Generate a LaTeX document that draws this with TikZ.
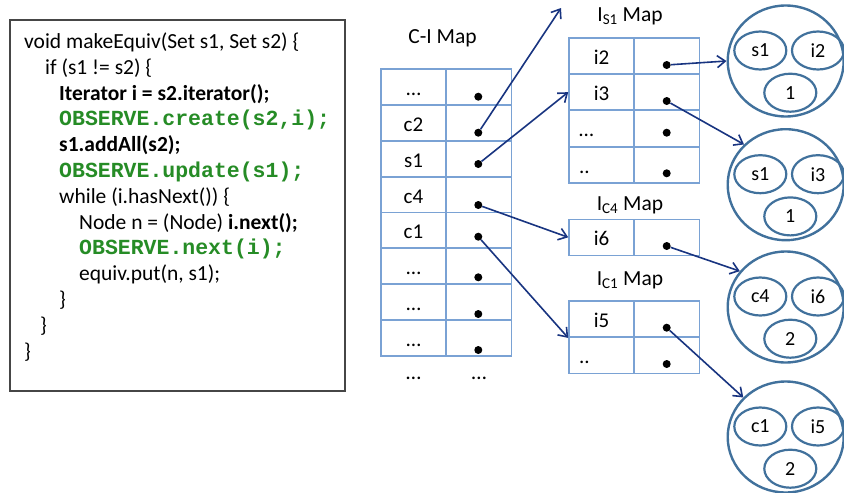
\documentclass[tikz,border=0pt]{standalone}
\usepackage{fontspec}
\setmainfont{Carlito}
\newfontfamily\codemono{Liberation Mono}
\usetikzlibrary{arrows.meta,shapes.geometric}
\definecolor{gridblue}{RGB}{122,162,212}
\definecolor{ringblue}{RGB}{65,113,156}
\definecolor{arrownavy}{RGB}{24,52,128}
\definecolor{codegreen}{RGB}{38,140,38}
\definecolor{boxgray}{RGB}{70,70,70}

\begin{document}
\begin{tikzpicture}[x=1pt,y=-1pt,
  codeline/.style={anchor=base west, inner sep=0pt, font=\fontsize{21.5}{26}\selectfont},
  obs/.style={anchor=base west, inner sep=0pt, text=codegreen, font=\fontsize{21.5}{26}\selectfont\codemono\bfseries},
  cell/.style={draw=gridblue, line width=1.5pt, minimum width=65.4pt, minimum height=36pt,
    inner sep=0pt, text height=19pt, text depth=2pt, font=\fontsize{21}{24}\selectfont},
  lefttext/.style={text width=45pt, align=left},
  dot/.style={circle, fill=black, inner sep=0pt, minimum size=8pt},
  maptitle/.style={anchor=base, inner sep=0pt, font=\fontsize{21.5}{26}\selectfont},
  ring/.style={ellipse, draw=ringblue, line width=2.4pt, minimum width=116pt, minimum height=111pt, inner sep=0pt},
  blob/.style={ellipse, draw=ringblue, line width=2.2pt, minimum width=52pt, minimum height=38pt,
    inner sep=0pt, font=\fontsize{20}{22}\selectfont},
  link/.style={draw=arrownavy, line width=1.6pt, -{Straight Barb[length=8pt,width=12pt,line width=1.6pt]}}
]
\path[use as bounding box] (0,0) rectangle (844,493);

% ---- source code box ----
\draw[boxgray, line width=1.4pt] (10,20) rectangle (345,391);
\node[codeline] (l1)  at (24,48.5)  {void makeEquiv(Set s1, Set s2) \{};
\node[codeline] (l2)  at (45,74.3)  {if (s1 != s2) \{};
\node[codeline] (l3)  at (59,100.1) {\textbf{Iterator i = s2.iterator();}};
\node[obs]      (l4)  at (59,125.9) {OBSERVE.create(s2,i);};
\node[codeline] (l5)  at (59,151.7) {\textbf{s1.addAll(s2);}};
\node[obs]      (l6)  at (59,177.5) {OBSERVE.update(s1);};
\node[codeline] (l7)  at (59,203.3) {while (i.hasNext()) \{};
\node[codeline] (l8)  at (79,229.1) {Node n = (Node) \textbf{i.next();}};
\node[obs]      (l9)  at (79,254.9) {OBSERVE.next(i);};
\node[codeline] (l10) at (79,280.7) {equiv.put(n, s1);};
\node[codeline] (l11) at (59,306.5) {\}};
\node[codeline] (l12) at (40,332.3) {\}};
\node[codeline] (l13) at (24,358.1) {\}};

% ---- C-I map ----
\node[maptitle] (citl) at (442.5,43.5) {C-I Map};
\node[cell] (cik1) at (413.5,87.2)  {…};
\node[cell] (civ1) at (479,87.2)    {};
\node[cell] (cik2) at (413.5,123.0) {c2};
\node[cell] (civ2) at (479,123.0)   {};
\node[cell] (cik3) at (413.5,158.8) {s1};
\node[cell] (civ3) at (479,158.8)   {};
\node[cell] (cik4) at (413.5,194.6) {c4};
\node[cell] (civ4) at (479,194.6)   {};
\node[cell] (cik5) at (413.5,230.4) {c1};
\node[cell] (civ5) at (479,230.4)   {};
\node[cell] (cik6) at (413.5,266.2) {…};
\node[cell] (civ6) at (479,266.2)   {};
\node[cell] (cik7) at (413.5,302.0) {…};
\node[cell] (civ7) at (479,302.0)   {};
\node[cell] (cik8) at (413.5,337.8) {…};
\node[cell] (civ8) at (479,337.8)   {};
\node[maptitle] (cimore1) at (413.5,379) {…};
\node[maptitle] (cimore2) at (479,379)   {…};
\node[dot] (cid1) at (478.3,96.7)  {};
\node[dot] (cid2) at (478.3,132.7) {};
\node[dot] (cid3) at (478.3,164)   {};
\node[dot] (cid4) at (478.3,205)   {};
\node[dot] (cid5) at (478.3,236.7) {};
\node[dot] (cid6) at (478.3,277.3) {};
\node[dot] (cid7) at (478.3,314)   {};
\node[dot] (cid8) at (478.3,350)   {};

% ---- I_S1 map ----
\node[maptitle] (is1tl) at (630,21.7) {I\textsubscript{S1} Map};
\node[cell] (is1k1) at (601.65,55.85)  {i2};
\node[cell] (is1v1) at (666.8,55.85)   {};
\node[cell] (is1k2) at (601.65,92.15)  {i3};
\node[cell] (is1v2) at (666.8,92.15)   {};
\node[cell,lefttext] (is1k3) at (601.65,128.45) {…};
\node[cell] (is1v3) at (666.8,128.45)  {};
\node[cell,lefttext] (is1k4) at (601.65,164.75) {..};
\node[cell] (is1v4) at (666.8,164.75)  {};
\node[dot] (is1d1) at (666.7,65)    {};
\node[dot] (is1d2) at (666.7,101)   {};
\node[dot] (is1d3) at (666.7,132.7) {};
\node[dot] (is1d4) at (666.7,173.3) {};

% ---- I_C4 map ----
\node[maptitle] (ic4tl) at (630,210) {I\textsubscript{C4} Map};
\node[cell] (ic4k1) at (601.65,237.3) {i6};
\node[cell] (ic4v1) at (666.8,237.3)  {};
\node[dot] (ic4d1) at (666.7,246) {};

% ---- I_C1 map ----
\node[maptitle] (ic1tl) at (630,285) {I\textsubscript{C1} Map};
\node[cell] (ic1k1) at (601.65,319.15) {i5};
\node[cell] (ic1v1) at (666.8,319.15)  {};
\node[cell,lefttext] (ic1k2) at (601.65,355.3) {..};
\node[cell] (ic1v2) at (666.8,355.3)   {};
\node[dot] (ic1d1) at (666.7,327.7) {};
\node[dot] (ic1d2) at (666.7,364)   {};

% ---- equivalence records ----
\node[ring] (r1) at (785.7,61)    {};
\node[blob] (r1a) at (760.3,50.5) {s1};
\node[blob] (r1b) at (818,50.5)   {i2};
\node[blob] (r1c) at (790.3,92.7) {1};

\node[ring] (r2) at (785.7,184.7)   {};
\node[blob] (r2a) at (760.3,174.2)  {s1};
\node[blob] (r2b) at (818,174.2)    {i3};
\node[blob] (r2c) at (790.3,216.4)  {1};

\node[ring] (r3) at (785.7,307)   {};
\node[blob] (r3a) at (760.3,296.5) {c4};
\node[blob] (r3b) at (818,296.5)   {i6};
\node[blob] (r3c) at (790.3,338.7) {2};

\node[ring] (r4) at (785.7,437)   {};
\node[blob] (r4a) at (760.3,426.5) {c1};
\node[blob] (r4b) at (818,426.5)   {i5};
\node[blob] (r4c) at (790.3,468.7) {2};

% ---- pointers ----
\coordinate (upper) at (561,8);
\draw[link] (cid2) -- (upper);
\draw[link] (cid3) -- (is1k2.west);
\draw[link] (cid4) -- (ic4k1.west);
\draw[link] (cid5) -- (ic1k1.south west);
\draw[link] (is1d1) -- (r1.west);
\draw[link] (is1d2) -- (r2.136);
\draw[link] (ic4d1) -- (r3.142);
\draw[link] (ic1d1) -- (r4.137);
\end{tikzpicture}
\end{document}
